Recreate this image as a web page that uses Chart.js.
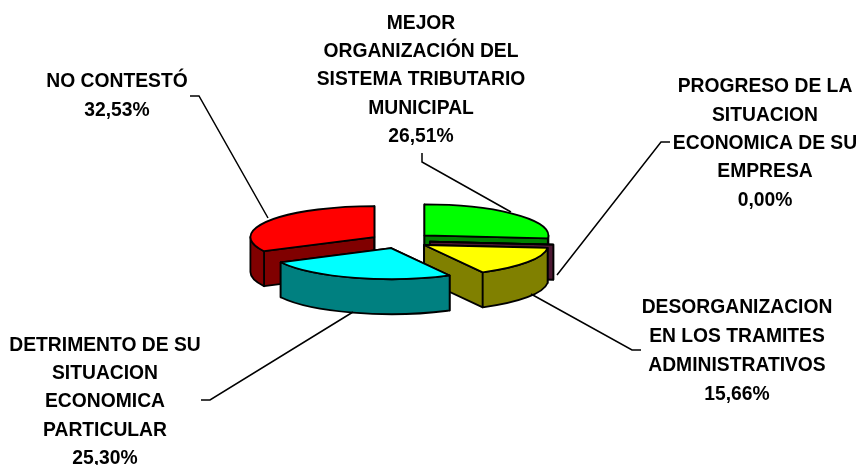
<!DOCTYPE html>
<html>
<head>
<meta charset="utf-8">
<title>Pie</title>
<script src="https://cdn.jsdelivr.net/npm/chart.js@4"></script>
<style>
  html, body { margin: 0; padding: 0; background: #fff; }
  canvas { display: block; }
</style>
</head>
<body>
<canvas id="pie" width="861" height="465"></canvas>
<script>
const categories = [
  ["MEJOR", "ORGANIZACIÓN DEL", "SISTEMA TRIBUTARIO", "MUNICIPAL"],
  ["PROGRESO DE LA", "SITUACION", "ECONOMICA DE SU", "EMPRESA"],
  ["DESORGANIZACION", "EN LOS TRAMITES", "ADMINISTRATIVOS"],
  ["DETRIMENTO DE SU", "SITUACION", "ECONOMICA", "PARTICULAR"],
  ["NO CONTESTÓ"],
];
const values = [26.51, 0, 15.66, 25.3, 32.53];
const topColors = ["#00ff00", "#993366", "#ffff00", "#00ffff", "#ff0000"];
const sideColors = ["#008000", "#4d1933", "#808000", "#008080", "#800000"];

// back to front
const drawOrder = [4, 0, 1, 2, 3];

const squash = 0.25;
const depth = 35;
const explode = [33, 30, 29, 30, 30];

// centre x, first line y, line height, per slice
const labelPos = [
  { x: 421, y: 23.5, lh: 28.3 },
  { x: 765, y: 87, lh: 28.3 },
  { x: 737, y: 307.5, lh: 29 },
  { x: 105, y: 345.5, lh: 28.3 },
  { x: 117, y: 81.5, lh: 29 },
];
const leaders = [
  [[422, 153], [422, 162], [511, 212]],
  [[670, 142], [661, 142], [557, 275]],
  [[641, 350], [632, 350], [531, 294]],
  [[201, 400], [210, 400], [353, 312]],
  [[190, 96], [199, 96], [268, 218]],
];

const sliceGeo = (arc, i) => {
  const mid = (arc.startAngle + arc.endAngle) / 2;
  return {
    x: arc.x + Math.cos(mid) * explode[i],
    y: arc.y + Math.sin(mid) * explode[i] * squash,
    rx: arc.outerRadius,
    ry: arc.outerRadius * squash,
    a0: arc.startAngle,
    a1: arc.endAngle,
  };
};

const drawFace = (ctx, g, angle) => {
  const px = g.x + Math.cos(angle) * g.rx;
  const py = g.y + Math.sin(angle) * g.ry;
  ctx.beginPath();
  ctx.moveTo(g.x, g.y);
  ctx.lineTo(px, py);
  ctx.lineTo(px, py + depth);
  ctx.lineTo(g.x, g.y + depth);
  ctx.closePath();
  ctx.fill();
  ctx.stroke();
};

const pie3d = {
  id: "pie3d",
  beforeDatasetDraw(chart) {
    const ctx = chart.ctx;
    const arcs = chart.getDatasetMeta(0).data;
    drawOrder.forEach((i) => {
      const arc = arcs[i];
      const g = sliceGeo(arc, i);
      ctx.save();
      ctx.strokeStyle = "#000";
      ctx.lineWidth = 1.8;
      ctx.lineJoin = "round";
      ctx.fillStyle = sideColors[i];
      drawFace(ctx, g, g.a0);
      drawFace(ctx, g, g.a1);
      const from = Math.max(g.a0, 0);
      const to = Math.min(g.a1, Math.PI);
      if (to > from) {
        ctx.beginPath();
        ctx.ellipse(g.x, g.y, g.rx, g.ry, 0, from, to);
        ctx.ellipse(g.x, g.y + depth, g.rx, g.ry, 0, to, from, true);
        ctx.closePath();
        ctx.fill();
        ctx.stroke();
      }
      ctx.restore();

      // the top is the library's own arc, moved and flattened
      ctx.save();
      ctx.translate(g.x, g.y);
      ctx.scale(1, squash);
      ctx.translate(-arc.x, -arc.y);
      arc.draw(ctx);
      ctx.restore();

      ctx.save();
      ctx.strokeStyle = "#000";
      ctx.lineWidth = 1.8;
      ctx.lineJoin = "round";
      ctx.beginPath();
      ctx.moveTo(g.x, g.y);
      ctx.ellipse(g.x, g.y, g.rx, g.ry, 0, g.a0, g.a1);
      ctx.closePath();
      ctx.stroke();
      ctx.restore();
    });
    return false;
  },
  afterDraw(chart) {
    const ctx = chart.ctx;
    ctx.save();
    ctx.strokeStyle = "#000";
    ctx.lineWidth = 1.5;
    leaders.forEach((pts) => {
      ctx.beginPath();
      pts.forEach((p, n) => (n ? ctx.lineTo(p[0], p[1]) : ctx.moveTo(p[0], p[1])));
      ctx.stroke();
    });
    ctx.fillStyle = "#000";
    ctx.font = 'bold 19.3px "Liberation Sans", Arial, sans-serif';
    ctx.textAlign = "center";
    ctx.textBaseline = "middle";
    categories.forEach((lines, i) => {
      const pos = labelPos[i];
      const pct = values[i].toFixed(2).replace(".", ",") + "%";
      lines.concat(pct).forEach((line, n) => {
        ctx.fillText(line, pos.x, pos.y + n * pos.lh);
      });
    });
    ctx.restore();
  },
};

new Chart(document.getElementById("pie"), {
  type: "pie",
  data: {
    labels: categories.map((c) => c.join(" ")),
    datasets: [
      {
        data: values,
        backgroundColor: topColors,
        borderWidth: 0,
      },
    ],
  },
  options: {
    responsive: false,
    animation: false,
    radius: 124,
    layout: { padding: { top: 17, right: 61 } },
    plugins: {
      legend: { display: false },
      tooltip: { enabled: false },
    },
  },
  plugins: [pie3d],
});
</script>
</body>
</html>
